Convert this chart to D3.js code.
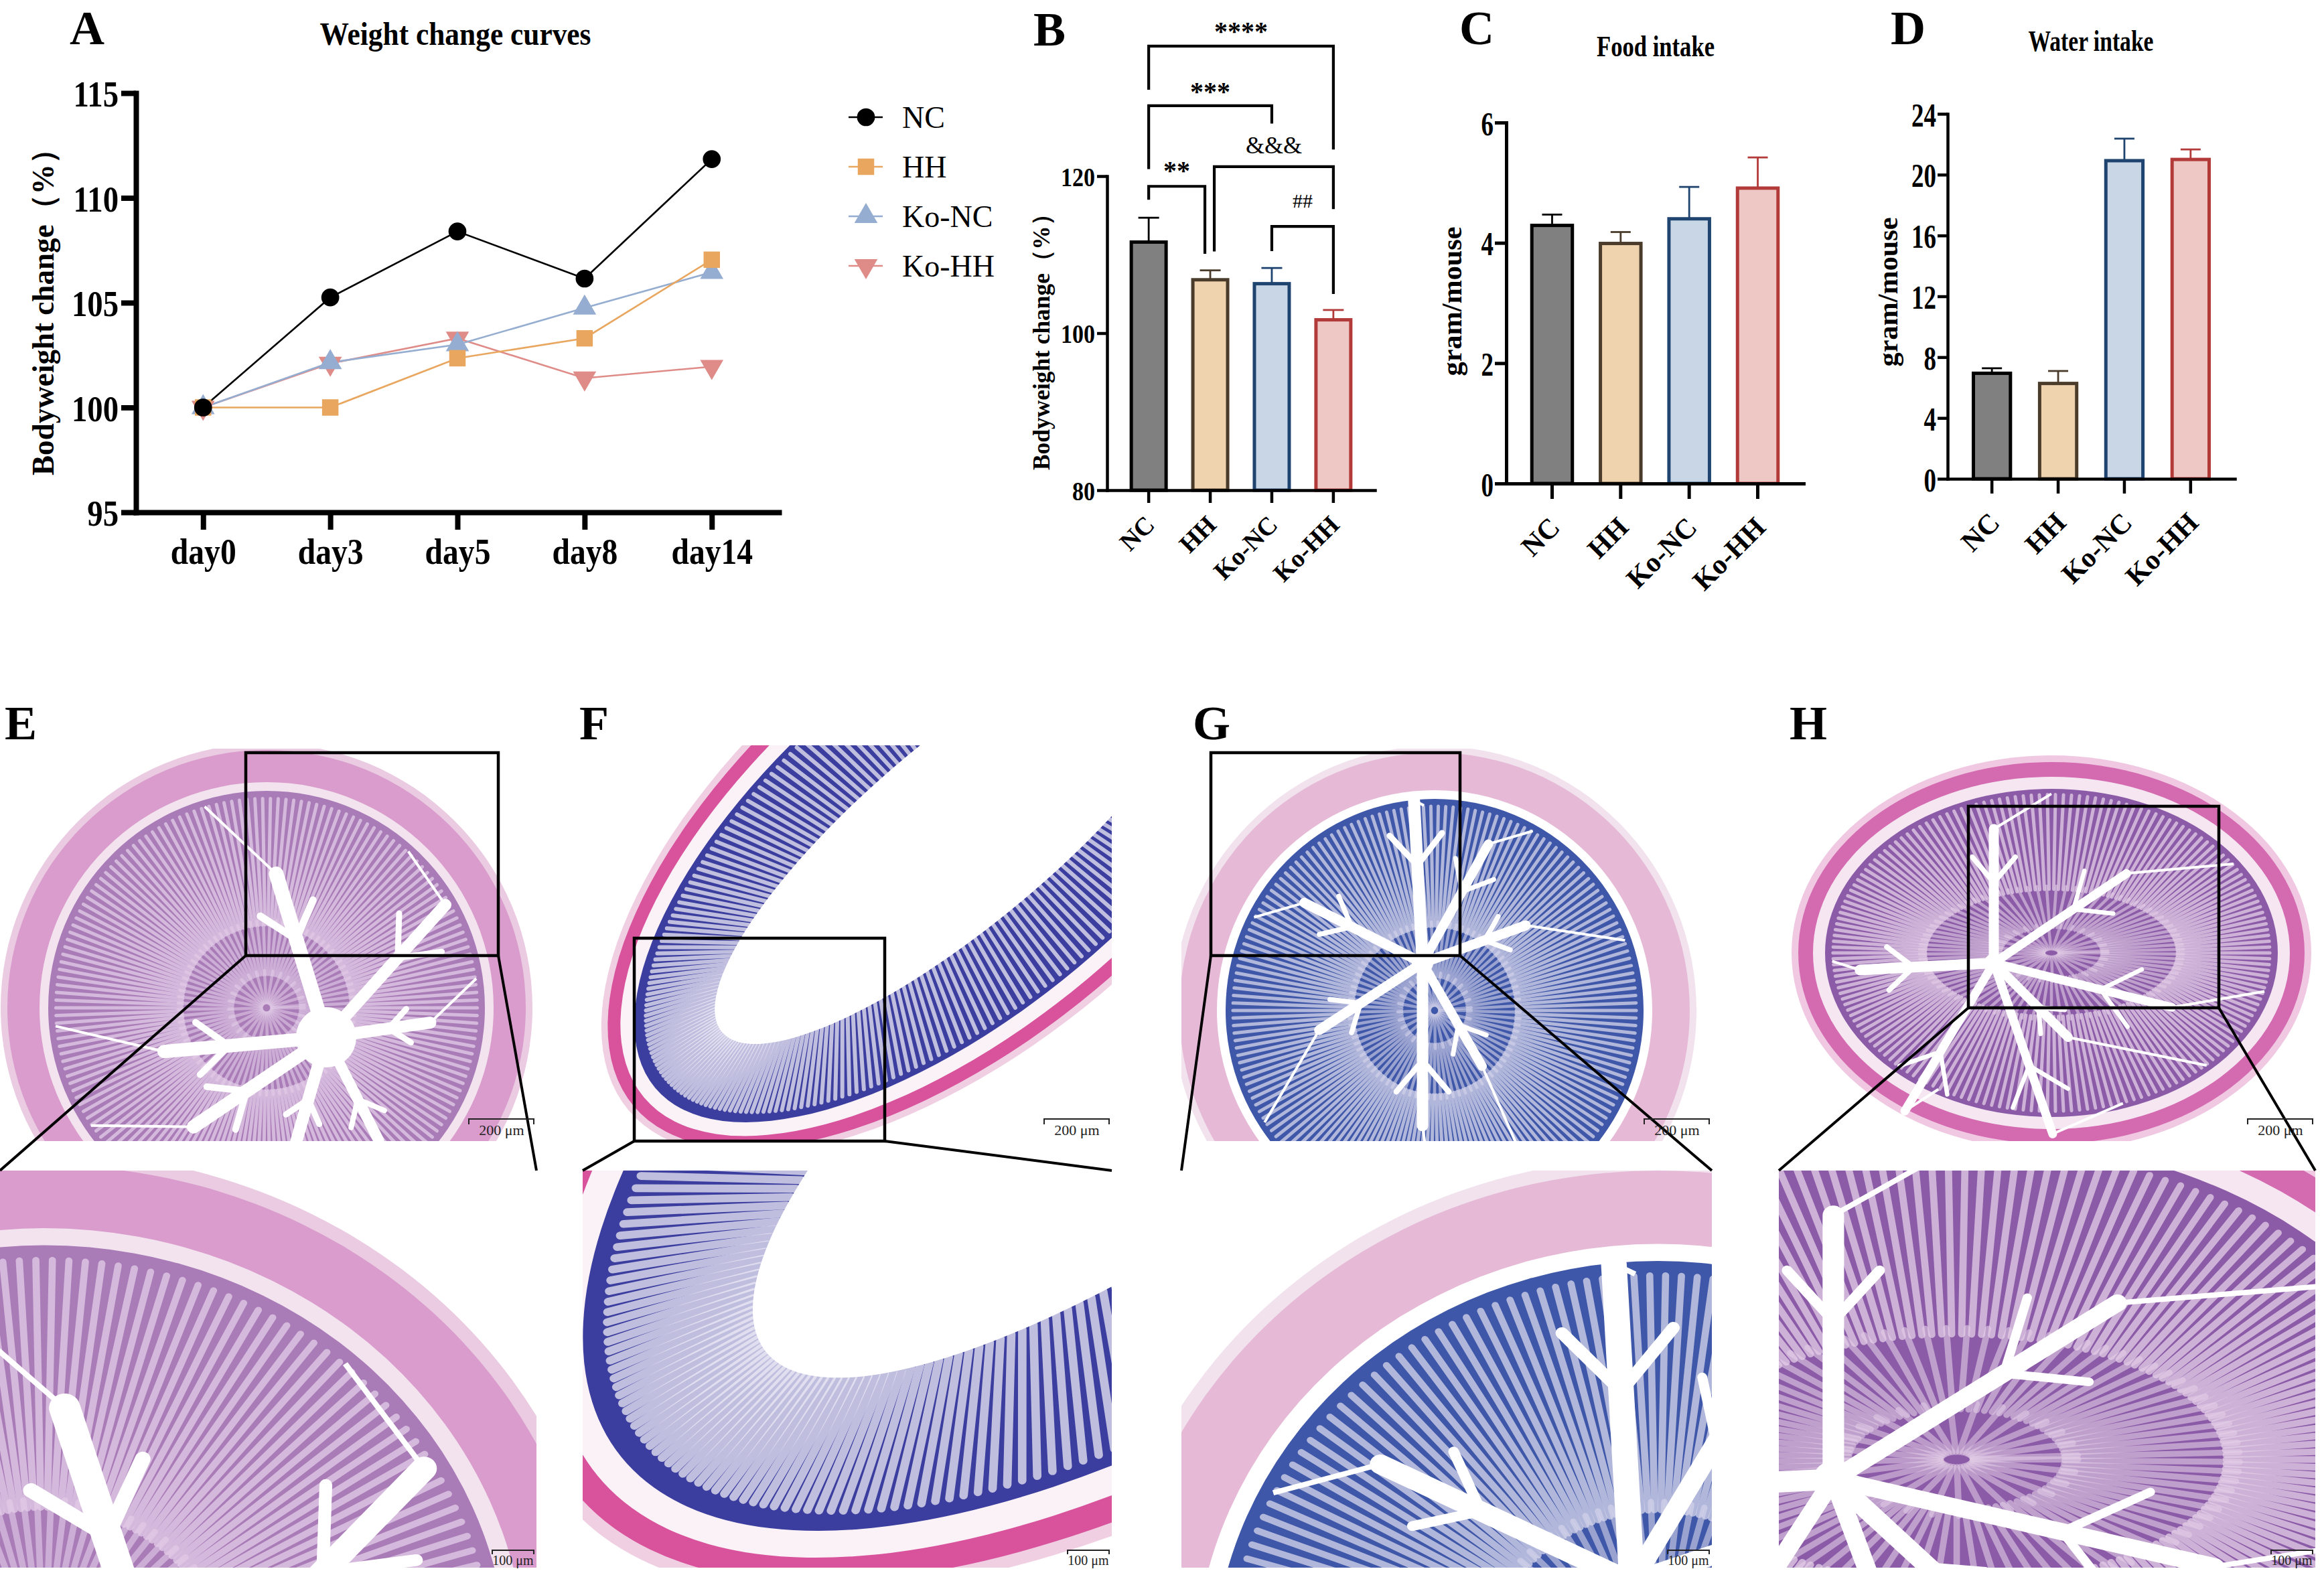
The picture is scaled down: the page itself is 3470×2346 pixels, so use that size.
<!DOCTYPE html>
<html>
<head>
<meta charset="utf-8">
<script src="https://cdn.jsdelivr.net/npm/d3@7"></script>
<style>
  body { margin: 0; background: #fff; }
  svg { display: block; }
</style>
</head>
<body>
<div id="fig"></div>
<script>
// ---------- data ----------
const days = ["day0", "day3", "day5", "day8", "day14"];
const groups = ["NC", "HH", "Ko-NC", "Ko-HH"];

const weightNC   = [100, 105.25, 108.4, 106.15, 111.85];
const weightHH   = [100, 100.0, 102.35, 103.3, 107.05];
const weightKoNC = [100, 102.15, 103.0, 104.75, 106.45];
const weightKoHH = [100, 102.1, 103.3, 101.4, 101.95];

const bodyMean  = [111.6, 106.8, 106.3, 101.7];
const bodySem   = [3.1, 1.2, 2.0, 1.25];
const foodMean  = [4.29, 3.99, 4.40, 4.91];
const foodSem   = [0.18, 0.19, 0.53, 0.51];
const waterMean = [6.94, 6.27, 20.92, 21.0];
const waterSem  = [0.33, 0.82, 1.45, 0.66];

const weightTicks = [95, 100, 105, 110, 115];
const bodyTicks = [80, 100, 120];
const foodTicks = [0, 2, 4, 6];
const waterTicks = [0, 4, 8, 12, 16, 20, 24];

// significance brackets in panel B (heights in % units)
const sigBrackets = [
  {from: 0, to: 3, y: 136.55, left: 131.0, right: 123.4, label: "****", ty: 137.3},
  {from: 0, to: 2, y: 128.96, left: 120.9, right: 126.7, label: "***",  ty: 129.6},
  {from: 1, to: 3, y: 121.2,  left: 110.4, right: 115.8, label: "&&&",  ty: 122.9},
  {from: 0, to: 1, y: 118.7,  left: 117.0, right: 110.1, label: "**",   ty: 119.6},
  {from: 2, to: 3, y: 113.6,  left: 110.45, right: 105.0, label: "##",  ty: 116.0}
];

// ---------- styles ----------
const serif = "'Liberation Serif','Times New Roman',serif";
const lineStyle = {
  "NC":    {color: "#000000", sym: d3.symbolCircle,   size: 560, rot: 0},
  "HH":    {color: "#E9A65F", sym: d3.symbolSquare,   size: 600, rot: 0},
  "Ko-NC": {color: "#95ADD0", sym: d3.symbolTriangle, size: 520, rot: 0},
  "Ko-HH": {color: "#DF8C89", sym: d3.symbolTriangle, size: 520, rot: 180}
};
const barFill = ["#808080", "#EFD2AE", "#C9D6E6", "#EEC8C5"];
const barStroke = ["#000000", "#4A3B2B", "#1F4470", "#B23A38"];
const bracketNudge = {"**": [0, -8], "&&&": [6, 0]};

const svg = d3.select("#fig").append("svg")
  .attr("width", 3470).attr("height", 2346)
  .attr("font-family", serif);
svg.append("rect").attr("width", 3470).attr("height", 2346).attr("fill", "#fff");

function styleAxis(g, w) {
  g.attr("font-family", serif).attr("font-size", null);
  g.select(".domain").attr("stroke", "#000").attr("stroke-width", w).attr("stroke-linecap", "square");
  g.selectAll(".tick line").attr("stroke", "#000").attr("stroke-width", w);
  g.selectAll(".tick text").attr("fill", "#000").attr("font-weight", "bold");
}

function label(txt, x, y, size, opts = {}) {
  const t = svg.append("text").attr("x", x).attr("y", y)
    .attr("font-size", size).attr("font-weight", opts.weight || "bold")
    .attr("text-anchor", opts.anchor || "start").text(txt);
  if (opts.len) t.attr("textLength", opts.len).attr("lengthAdjust", "spacingAndGlyphs");
  return t;
}

function yTitle(txt, x, y, size, len) {
  svg.append("text").attr("transform", `translate(${x},${y}) rotate(-90)`)
    .attr("text-anchor", "middle").attr("font-size", size).attr("font-weight", "bold")
    .attr("textLength", len).attr("lengthAdjust", "spacingAndGlyphs").text(txt);
}

// ---------- panel letters and titles ----------
[["A", 104, 66], ["B", 1543, 68], ["C", 2179, 66], ["D", 2823, 66],
 ["E", 7, 1104], ["F", 865, 1104], ["G", 1781, 1104], ["H", 2672, 1104]]
  .forEach(([t, x, y]) => label(t, x, y, 72));

label("Weight change curves", 680, 67, 48, {anchor: "middle", len: 405});
label("Food intake", 2472, 84, 44, {anchor: "middle", len: 176});
label("Water intake", 3122, 76, 44, {anchor: "middle", len: 187});

// ---------- panel A : line chart ----------
const xA = d3.scalePoint().domain(days).range([203, 1163]).padding(0.528);
const yA = d3.scaleLinear().domain([95, 115]).range([765, 139]);

const seriesA = [
  {name: "Ko-HH", values: weightKoHH},
  {name: "Ko-NC", values: weightKoNC},
  {name: "HH", values: weightHH},
  {name: "NC", values: weightNC}
];
const lineA = d3.line().x((d, i) => xA(days[i])).y(d => yA(d));

seriesA.forEach(s => {
  const st = lineStyle[s.name];
  svg.append("path").datum(s.values).attr("d", lineA)
    .attr("fill", "none").attr("stroke", st.color).attr("stroke-width", 2.6);
});
seriesA.forEach(s => {
  const st = lineStyle[s.name];
  svg.append("g").selectAll("path").data(s.values).join("path")
    .attr("d", d3.symbol(st.sym, st.size))
    .attr("transform", (d, i) => `translate(${xA(days[i])},${yA(d)}) rotate(${st.rot})`)
    .attr("fill", st.color);
});

const gAx = svg.append("g").attr("transform", "translate(0,765)")
  .call(d3.axisBottom(xA).tickSize(26).tickSizeOuter(0));
styleAxis(gAx, 8);
gAx.selectAll(".tick text").attr("y", 77).attr("dy", null)
  .attr("font-size", 56).attr("transform", "scale(0.85,1)");

const gAy = svg.append("g").attr("transform", "translate(203,0)")
  .call(d3.axisLeft(yA).tickValues(weightTicks).tickSize(22).tickSizeOuter(0));
styleAxis(gAy, 8);
gAy.selectAll(".tick text").attr("x", -26 / 0.85).attr("dy", "0.36em")
  .attr("font-size", 55).attr("transform", "scale(0.85,1)");

yTitle("Bodyweight change（%）", 80, 455, 46, 510);

// legend
groups.forEach((name, i) => {
  const st = lineStyle[name];
  const y = 175 + i * 74;
  svg.append("line").attr("x1", 1267).attr("x2", 1318).attr("y1", y).attr("y2", y)
    .attr("stroke", st.color).attr("stroke-width", 2.6);
  svg.append("path").attr("d", d3.symbol(st.sym, st.size)())
    .attr("transform", `translate(1293,${y}) rotate(${st.rot})`).attr("fill", st.color);
  label(name, 1347, y + 16, 46, {weight: "normal"});
});

// ---------- bar panels ----------
function barPanel(o) {
  const x = d3.scaleBand().domain(groups).range(o.xr).paddingInner(o.pi).paddingOuter(o.po);
  const y = d3.scaleLinear().domain(o.dom).range(o.yr);
  const g = svg.append("g");
  const bw = x.bandwidth();

  // error bars (upper whisker)
  o.mean.forEach((m, i) => {
    const cx = x(groups[i]) + bw / 2;
    g.append("line").attr("x1", cx).attr("x2", cx).attr("y1", y(m)).attr("y2", y(m + o.sem[i]))
      .attr("stroke", barStroke[i]).attr("stroke-width", 2.8);
    g.append("line").attr("x1", cx - o.cap / 2).attr("x2", cx + o.cap / 2)
      .attr("y1", y(m + o.sem[i])).attr("y2", y(m + o.sem[i]))
      .attr("stroke", barStroke[i]).attr("stroke-width", 2.8);
  });

  g.selectAll("rect").data(o.mean).join("rect")
    .attr("x", (d, i) => x(groups[i]) + o.sw / 2)
    .attr("width", bw - o.sw)
    .attr("y", d => y(d))
    .attr("height", d => y(o.dom[0]) - y(d))
    .attr("fill", (d, i) => barFill[i])
    .attr("stroke", (d, i) => barStroke[i])
    .attr("stroke-width", o.sw);

  const gx = svg.append("g").attr("transform", `translate(0,${o.yr[0]})`)
    .call(d3.axisBottom(x).tickSize(o.xt).tickSizeOuter(0));
  styleAxis(gx, o.aw);
  gx.selectAll(".tick text")
    .attr("y", null).attr("dy", null).attr("text-anchor", "end")
    .attr("font-size", o.catSize)
    .attr("transform", `translate(${o.catDx},${o.catDy}) rotate(-45)`);

  const gy = svg.append("g").attr("transform", `translate(${o.xr[0]},0)`)
    .call(d3.axisLeft(y).tickValues(o.ticks).tickFormat(d3.format("d"))
      .tickSize(o.yt).tickSizeOuter(0));
  styleAxis(gy, o.aw);
  gy.selectAll(".tick text").attr("x", -o.tickGap / o.sx).attr("dy", "0.36em")
    .attr("font-size", o.tickSize).attr("transform", `scale(${o.sx},1)`);

  return {x, y};
}

// panel B
const pB = barPanel({
  xr: [1653, 2053], yr: [732, 263], dom: [80, 120], pi: 0.38, po: 0.366,
  mean: bodyMean, sem: bodySem, ticks: bodyTicks,
  sw: 5, cap: 31, aw: 4.5, xt: 19, yt: 15, tickGap: 18, tickSize: 40, sx: 0.85,
  catSize: 38, catDx: 11, catDy: 54
});
yTitle("Bodyweight change（%）", 1567, 502, 36, 400);

const centerB = i => pB.x(groups[i]) + pB.x.bandwidth() / 2;
sigBrackets.forEach(b => {
  const nud = bracketNudge[b.label] || [0, 0];
  const x1 = centerB(b.from) + nud[0], x2 = centerB(b.to) + nud[1];
  svg.append("path")
    .attr("d", `M${x1},${pB.y(b.left)}V${pB.y(b.y)}H${x2}V${pB.y(b.right)}`)
    .attr("fill", "none").attr("stroke", "#000").attr("stroke-width", 4.2);
  const star = b.label.includes("*");
  label(b.label, (x1 + x2) / 2, pB.y(b.ty), star ? 40 : (b.label === "##" ? 30 : 36),
    {anchor: "middle", weight: star ? "bold" : "normal"});
});

// panel C
barPanel({
  xr: [2249, 2693], yr: [722, 183], dom: [0, 6], pi: 0.36, po: 0.349,
  mean: foodMean, sem: foodSem, ticks: foodTicks,
  sw: 5, cap: 30, aw: 5, xt: 23, yt: 17, tickGap: 19, tickSize: 50, sx: 0.74,
  catSize: 42, catDx: 14, catDy: 68
});
yTitle("gram/mouse", 2182, 450, 42, 223);

// panel D
barPanel({
  xr: [2908, 3337], yr: [715, 170], dom: [0, 24], pi: 0.39, po: 0.364,
  mean: waterMean, sem: waterSem, ticks: waterTicks,
  sw: 5, cap: 30, aw: 4.5, xt: 22, yt: 15, tickGap: 17, tickSize: 50, sx: 0.74,
  catSize: 42, catDx: 14, catDy: 68
});
yTitle("gram/mouse", 2833, 436, 42, 223);

// ---------- histology panels (stylised sections) ----------
const histLayout = [
  {key: "E", img: [0, 1118, 801, 586], box: [367, 1124, 377, 303], low: [0, 1748, 801, 593],
   t: {cx: 398, cy: 1505, rx: 387, ry: 385, rot: 0, ring: 48, gap: 13, depth: 200, crypts: 170, cw: 5,
       hub: [89, 44, 45],
       arms: [[-107, 255, 22], [-48, 266, 18], [175, 243, 20], [-8, 157, 18], [146, 239, 20], [106, 161, 18], [63, 173, 16]]},
   pal: {fringe: "#EACBE2", ring: "#D99CCC", sub: "#F3E3EF", mucosa: "#A97CB8", crypt: "#E4CEE9"}},
  {key: "F", img: [870, 1113, 790, 591], box: [947, 1401, 374, 303], low: [870, 1748, 790, 593],
   t: {cx: 1438, cy: 1239, rx: 642, ry: 310, rot: -40, ring: 20, gap: 22, depth: 130, crypts: 260, cw: 6,
       lumen: true, arms: []},
   pal: {fringe: "#F1CFE3", ring: "#D8529C", sub: "#FBF2F7", mucosa: "#3B3E9E", crypt: "#ECE9F5"}},
  {key: "G", img: [1764, 1118, 792, 586], box: [1808, 1124, 372, 303], low: [1764, 1748, 792, 593],
   t: {cx: 2142, cy: 1509, rx: 381, ry: 385, rot: 0, ring: 56, gap: 13, depth: 190, crypts: 170, cw: 5,
       hub: [-18, -71, 16],
       arms: [[-93, 243, 18], [90, 243, 17], [-153, 198, 15], [-20, 164, 15], [147, 184, 15], [60, 178, 14], [-61, 203, 14]]},
   pal: {fringe: "#F1E2EE", ring: "#E6BAD6", sub: "#FFFFFF", mucosa: "#3E57A8", crypt: "#D8D6EC"}},
  {key: "H", img: [2656, 1113, 801, 591], box: [2939, 1204, 374, 301], low: [2656, 1748, 801, 593],
   t: {cx: 3063, cy: 1423, rx: 378, ry: 285, rot: 0, ring: 22, gap: 18, depth: 150, crypts: 170, cw: 5,
       hub: [-86, 15, 14],
       arms: [[177, 200, 16], [-90, 200, 15], [45, 157, 14], [71, 270, 13], [121, 258, 13], [14, 274, 13], [-34, 239, 13]]},
   pal: {fringe: "#F0C8E2", ring: "#D46BB1", sub: "#F6E6F1", mucosa: "#8B5BA8", crypt: "#E3CEE7"}}
];

function drawTissue(parent, t, p) {
  const g = parent.append("g").attr("transform", `translate(${t.cx},${t.cy}) rotate(${t.rot})`);
  g.append("ellipse").attr("rx", t.rx + 10).attr("ry", t.ry + 10).attr("fill", p.fringe);
  g.append("ellipse").attr("rx", t.rx).attr("ry", t.ry).attr("fill", p.ring);
  const sx = t.rx - t.ring, sy = t.ry - t.ring;
  g.append("ellipse").attr("rx", sx).attr("ry", sy).attr("fill", p.sub);
  const mx = sx - t.gap, my = sy - t.gap;
  g.append("ellipse").attr("rx", mx).attr("ry", my).attr("fill", p.mucosa);

  const ang = d3.range(t.crypts).map(i => i * 2 * Math.PI / t.crypts);
  const ix = Math.max(mx - t.depth, 20), iy = Math.max(my - t.depth, 20);
  g.append("g").selectAll("line").data(ang).join("line")
    .attr("x1", a => Math.cos(a) * mx * 0.965).attr("y1", a => Math.sin(a) * my * 0.965)
    .attr("x2", a => Math.cos(a) * ix).attr("y2", a => Math.sin(a) * iy)
    .attr("stroke", p.crypt).attr("stroke-width", t.cw).attr("stroke-linecap", "round")
    .attr("opacity", 0.75);
  // inner crypts for round sections, thinning toward the centre
  if (!t.lumen) {
    const half = Math.PI / t.crypts;
    g.append("g").selectAll("line").data(ang.filter((a, i) => i % 2 === 0)).join("line")
      .attr("x1", a => Math.cos(a + half) * ix * 1.05).attr("y1", a => Math.sin(a + half) * iy * 1.05)
      .attr("x2", a => Math.cos(a + half) * ix * 0.4).attr("y2", a => Math.sin(a + half) * iy * 0.4)
      .attr("stroke", p.crypt).attr("stroke-width", t.cw * 0.9).attr("stroke-linecap", "round")
      .attr("opacity", 0.6);
    g.append("g").selectAll("line").data(ang.filter((a, i) => i % 6 === 0)).join("line")
      .attr("x1", a => Math.cos(a) * ix * 0.45).attr("y1", a => Math.sin(a) * iy * 0.45)
      .attr("x2", a => Math.cos(a) * ix * 0.06).attr("y2", a => Math.sin(a) * iy * 0.06)
      .attr("stroke", p.crypt).attr("stroke-width", t.cw * 0.9).attr("stroke-linecap", "round")
      .attr("opacity", 0.55);
  }

  if (t.lumen) {
    g.append("ellipse").attr("rx", mx - t.depth).attr("ry", my - t.depth).attr("fill", "#fff");
  }
  if (t.hub) {
    const [hx, hy, hr] = t.hub;
    t.arms.forEach(([deg, len, w]) => {
      const r = deg * Math.PI / 180;
      const ex = hx + Math.cos(r) * len, ey = hy + Math.sin(r) * len;
      g.append("line").attr("x1", ex).attr("y1", ey)
        .attr("x2", Math.cos(r) * mx * 0.97).attr("y2", Math.sin(r) * my * 0.97)
        .attr("stroke", "#fff").attr("stroke-width", 4);
      g.append("line").attr("x1", hx).attr("y1", hy).attr("x2", ex).attr("y2", ey)
        .attr("stroke", "#fff").attr("stroke-width", w).attr("stroke-linecap", "round");
      [-1, 1].forEach(s => {
        const bx = hx + Math.cos(r) * len * 0.6, by = hy + Math.sin(r) * len * 0.6;
        const rr = r + s * 0.7;
        g.append("line").attr("x1", bx).attr("y1", by)
          .attr("x2", bx + Math.cos(rr) * len * 0.25).attr("y2", by + Math.sin(rr) * len * 0.25)
          .attr("stroke", "#fff").attr("stroke-width", w * 0.5).attr("stroke-linecap", "round");
      });
    });
    g.append("circle").attr("cx", hx).attr("cy", hy).attr("r", hr).attr("fill", "#fff");
  }
}

const defs = svg.append("defs");
histLayout.forEach(h => {
  const [ix, iy, iw, ih] = h.img, [bx, by, bw, bh] = h.box, [lx, ly, lw, lh] = h.low;
  defs.append("clipPath").attr("id", "up" + h.key)
    .append("rect").attr("x", ix).attr("y", iy).attr("width", iw).attr("height", ih);
  defs.append("clipPath").attr("id", "lo" + h.key)
    .append("rect").attr("x", lx).attr("y", ly).attr("width", lw).attr("height", lh);

  const up = svg.append("g").attr("clip-path", `url(#up${h.key})`);
  drawTissue(up, h.t, h.pal);

  const sxm = lw / bw, sym = lh / bh;
  const lo = svg.append("g").attr("clip-path", `url(#lo${h.key})`)
    .append("g").attr("transform", `translate(${lx - bx * sxm},${ly - by * sym}) scale(${sxm},${sym})`);
  drawTissue(lo, h.t, h.pal);

  // zoom box and connectors
  svg.append("rect").attr("x", bx).attr("y", by).attr("width", bw).attr("height", bh)
    .attr("fill", "none").attr("stroke", "#000").attr("stroke-width", 4.5);
  svg.append("line").attr("x1", bx).attr("y1", by + bh).attr("x2", lx).attr("y2", ly)
    .attr("stroke", "#000").attr("stroke-width", 4);
  svg.append("line").attr("x1", bx + bw).attr("y1", by + bh).attr("x2", lx + lw).attr("y2", ly)
    .attr("stroke", "#000").attr("stroke-width", 4);

  // scale bars
  const ux2 = ix + iw - 4, uy = iy + ih - 33;
  svg.append("path").attr("d", `M${ux2 - 97},${uy + 8}V${uy}H${ux2}V${uy + 8}`)
    .attr("fill", "none").attr("stroke", "#222").attr("stroke-width", 2);
  label("200 μm", ux2 - 48, uy + 24, 22, {anchor: "middle", weight: "normal"}).attr("fill", "#222");
  const lx2 = lx + lw - 4, lyb = ly + lh - 26;
  svg.append("path").attr("d", `M${lx2 - 62},${lyb + 6}V${lyb}H${lx2}V${lyb + 6}`)
    .attr("fill", "none").attr("stroke", "#222").attr("stroke-width", 2);
  label("100 μm", lx2 - 31, lyb + 22, 20, {anchor: "middle", weight: "normal"}).attr("fill", "#222");
});
</script>
</body>
</html>
